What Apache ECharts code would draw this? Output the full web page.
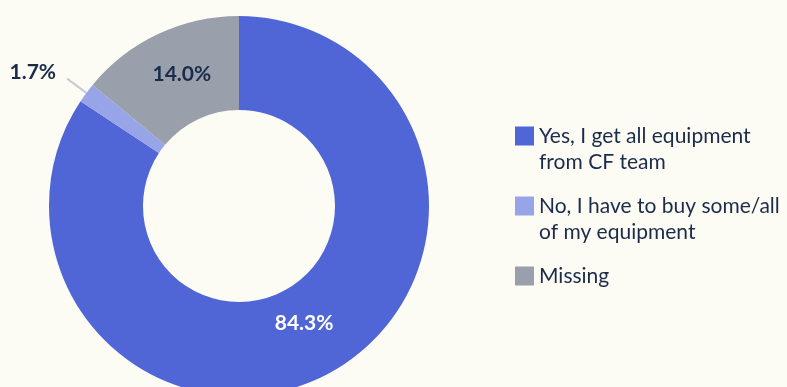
<!DOCTYPE html>
<html><head><meta charset="utf-8">
<script src="https://cdn.jsdelivr.net/npm/echarts@6/dist/echarts.min.js"></script>
<style>html,body{margin:0;padding:0;background:#FCFBF4;}#c{width:787px;height:387px;}</style>
</head><body><div id="c"></div>
<script>
const categories = ["Yes, I get all equipment\nfrom CF team", "No, I have to buy some/all\nof my equipment", "Missing"];
const values = [84.3, 1.7, 14.0];
const colors = ["#5166D6", "#97A5E8", "#9AA0AB"];

const chart = echarts.init(document.getElementById('c'));
const data = categories.map((c, i) => {
  const d = { name: c, value: values[i], itemStyle: { color: colors[i] } };
  if (i === 0) d.label = { color: '#FFFFFF' };
  if (i === 1) {
    d.label = {
      position: 'outside', distanceToLabelLine: 11,
      formatter: p => '{o|' + p.value.toFixed(1) + '%}',
      rich: { o: { fontFamily: 'Lato', fontSize: 21, fontWeight: 'bold', color: '#1B2B4A', padding: [0, 0, 12, 0] } }
    };
    d.labelLine = { show: true, length: 24, length2: 0, lineStyle: { color: '#C8CBD0', width: 2 } };
  }
  return d;
});
chart.setOption({
  backgroundColor: '#FCFBF4',
  animation: false,
  legend: {
    orient: 'vertical',
    left: 510, top: 92,
    itemWidth: 19, itemHeight: 19, itemGap: -8,
    icon: 'rect',
    formatter: name => ' \n' + (name.indexOf('\n') >= 0 ? name : name + '\n '),
    textStyle: { fontFamily: 'Lato', fontSize: 21, color: '#1B2B4A', lineHeight: 26 },
    data: categories
  },
  series: [{
    type: 'pie',
    center: [239, 206],
    radius: [96, 190],
    startAngle: 90,
    clockwise: true,
    avoidLabelOverlap: false,
    label: {
      show: true, position: 'inside',
      formatter: p => p.value.toFixed(1) + '%',
      fontFamily: 'Lato', fontSize: 21, fontWeight: 'bold', color: '#1B2B4A'
    },
    labelLayout: p => {
      if (p.dataIndex === 0) return { dx: -4, dy: -11 };
      if (p.dataIndex === 2) return { dx: 5 };
      return {};
    },
    labelLine: { show: false },
    data: data
  }]
});
</script></body></html>
